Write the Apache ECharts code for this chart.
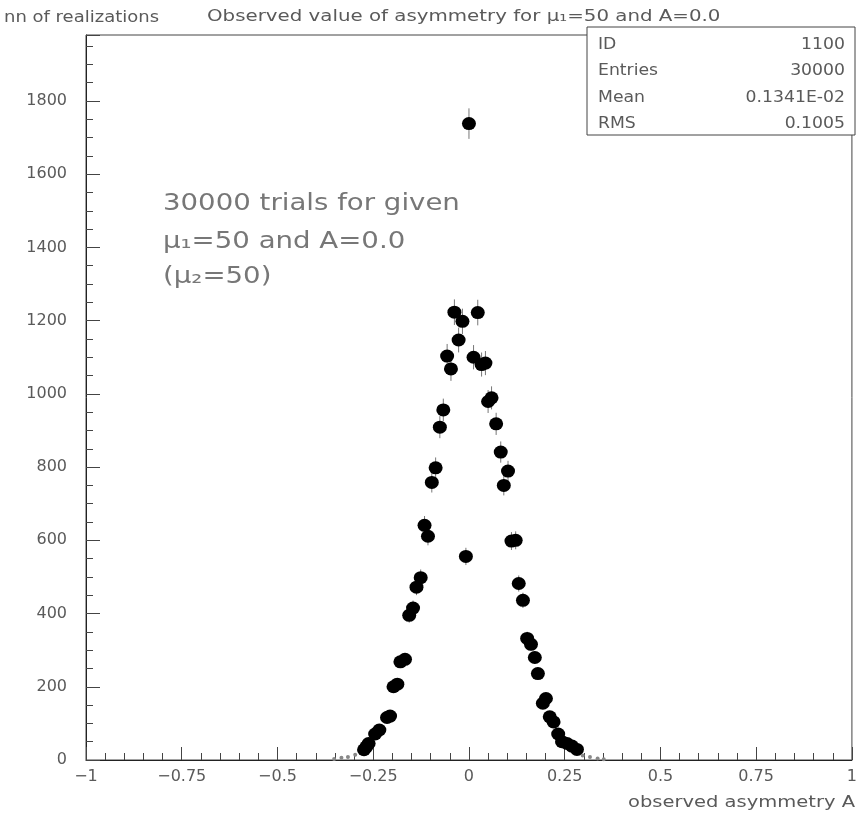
<!DOCTYPE html>
<html>
<head>
<meta charset="utf-8">
<script src="https://cdn.jsdelivr.net/npm/echarts@6/dist/echarts.min.js"></script>
<style>
  html, body { margin: 0; padding: 0; background: #fff; }
  #chart { width: 860px; height: 814px; }
</style>
</head>
<body>
<div id="chart"></div>
<script>
// Observed asymmetry A for each bin, and the number of realizations in it
const asymmetry = [
  -0.274, -0.268, -0.262, -0.245, -0.234, -0.214, -0.206, -0.197, -0.187, -0.179,
  -0.167, -0.156, -0.146, -0.137, -0.126, -0.116, -0.107, -0.097, -0.087, -0.076,
  -0.067, -0.057, -0.047, -0.038, -0.027, -0.017, -0.008, 0.000, 0.012, 0.023,
  0.033, 0.043, 0.050, 0.059, 0.071, 0.083, 0.091, 0.102, 0.111, 0.122,
  0.130, 0.141, 0.152, 0.162, 0.172, 0.180, 0.193, 0.201, 0.211, 0.221,
  0.233, 0.243, 0.256, 0.269, 0.282
];
const realizations = [
  28, 36, 45, 71, 82, 116, 120, 200, 207, 268,
  275, 395, 415, 472, 498, 641, 611, 758, 798, 909,
  956, 1103, 1068, 1223, 1147, 1198, 556, 1738, 1100, 1222,
  1080, 1084, 979, 989, 918, 841, 750, 789, 598, 600,
  482, 436, 332, 316, 280, 236, 155, 168, 118, 104,
  71, 50, 45, 38, 29
];
// Sparse tail bins with only a handful of entries
const tailAsymmetry = [-0.352, -0.333, -0.316, -0.297, 0.297, 0.316, 0.336, 0.352];
const tailRealizations = [3, 6, 8, 14, 12, 8, 4, 2];

// Axis ticks
const xTicks = [-1, -0.75, -0.5, -0.25, 0, 0.25, 0.5, 0.75, 1];
const yTicks = [0, 200, 400, 600, 800, 1000, 1200, 1400, 1600, 1800];

// Statistics box
const statNames = ['ID', 'Entries', 'Mean', 'RMS'];
const statValues = ['1100', '30000', '0.1341E-02', '0.1005'];

const FONT = 'DejaVu Sans';
const TEXT = '#5a5a5a';

const points = asymmetry.map((a, i) => [a, realizations[i], Math.sqrt(realizations[i])]);
const tailPoints = tailAsymmetry.map((a, i) => [a, tailRealizations[i], Math.sqrt(tailRealizations[i])]);

function errorBar(params, api) {
  const x = api.value(0), y = api.value(1), e = api.value(2);
  const top = api.coord([x, y + e]);
  const bot = api.coord([x, Math.max(0, y - e)]);
  return {
    type: 'line',
    shape: { x1: top[0], y1: top[1], x2: bot[0], y2: bot[1] },
    style: { stroke: '#777', lineWidth: 1 }
  };
}

function fmtNum(v) {
  return String(v).replace('-', '\u2212');
}

const chart = echarts.init(document.getElementById('chart'), null, { renderer: 'canvas' });

const statGraphics = [];
statGraphics.push({
  type: 'rect',
  shape: { x: 587, y: 27, width: 268, height: 108 },
  style: { fill: '#fff', stroke: '#444', lineWidth: 1 },
  z: 100
});
statNames.forEach((name, i) => {
  const yc = 45 + i * 26.5;
  statGraphics.push({
    type: 'text', x: 598, y: yc, scaleX: 1.15, z: 101,
    style: { text: name, fill: TEXT, font: '15px ' + FONT, textAlign: 'left', textVerticalAlign: 'middle', align: 'left', verticalAlign: 'middle' }
  });
  statGraphics.push({
    type: 'text', x: 845, y: yc, scaleX: 1.15, z: 101,
    style: { text: statValues[i], fill: TEXT, font: '15px ' + FONT, textAlign: 'right', textVerticalAlign: 'middle', align: 'right', verticalAlign: 'middle' }
  });
});

function label(text, x, y, size, color, scale, align) {
  return {
    type: 'text', x: x, y: y, scaleX: scale, z: 50,
    style: {
      text: text, fill: color, font: size + 'px ' + FONT,
      textAlign: align || 'left', align: align || 'left',
      textVerticalAlign: 'middle', verticalAlign: 'middle'
    }
  };
}

chart.setOption({
  backgroundColor: '#fff',
  animation: false,
  grid: {
    left: 86, right: 5, top: 35, bottom: 54,
    show: true, borderColor: '#444', borderWidth: 1, backgroundColor: 'transparent'
  },
  xAxis: {
    type: 'value', min: -1, max: 1, interval: 0.25,
    axisLine: { show: true, onZero: false, lineStyle: { color: '#222', width: 1 } },
    axisTick: { show: true, inside: true, length: 13, lineStyle: { color: '#444' } },
    minorTick: { show: true, splitNumber: 5, length: 7, lineStyle: { color: '#444' } },
    splitLine: { show: false },
    axisLabel: {
      margin: 9, color: TEXT, fontFamily: FONT, fontSize: 16,
      formatter: v => xTicks.includes(v) ? fmtNum(v) : ''
    }
  },
  yAxis: {
    type: 'value', min: 0, max: 1980, interval: 200,
    axisLine: { show: true, onZero: false, lineStyle: { color: '#222', width: 1 } },
    axisTick: { show: true, inside: true, length: 14, lineStyle: { color: '#444' } },
    minorTick: { show: true, splitNumber: 4, length: 7, lineStyle: { color: '#444' } },
    splitLine: { show: false },
    axisLabel: {
      margin: 19, color: TEXT, fontFamily: FONT, fontSize: 16, showMaxLabel: false,
      formatter: v => yTicks.includes(v) ? String(v) : ''
    }
  },
  series: [
    {
      type: 'custom', renderItem: errorBar, data: points,
      encode: { x: 0, y: 1 }, z: 2, silent: true
    },
    {
      type: 'scatter', data: points.map(p => [p[0], p[1]]),
      symbol: 'circle', symbolSize: [14, 13],
      itemStyle: { color: '#000', opacity: 1 }, z: 3, silent: true
    },
    {
      type: 'custom', renderItem: errorBar, data: tailPoints,
      encode: { x: 0, y: 1 }, z: 2, silent: true
    },
    {
      type: 'scatter', data: tailPoints.map(p => [p[0], p[1]]),
      symbol: 'circle', symbolSize: 4,
      itemStyle: { color: '#888', opacity: 1 }, z: 3, silent: true
    }
  ],
  graphic: [
    label('nn of realizations', 4, 18, 15, TEXT, 1.2, 'left'),
    label('Observed value of asymmetry for \u03bc\u2081=50 and A=0.0', 207, 17, 15, TEXT, 1.32, 'left'),
    label('30000 trials for given', 163, 204, 23, '#777', 1.2, 'left'),
    label('\u03bc\u2081=50 and A=0.0', 163, 242, 23, '#777', 1.2, 'left'),
    label('(\u03bc\u2082=50)', 163, 277, 23, '#777', 1.2, 'left'),
    label('observed asymmetry A', 855, 803, 15, TEXT, 1.3, 'right')
  ].concat(statGraphics)
});
</script>
</body>
</html>
